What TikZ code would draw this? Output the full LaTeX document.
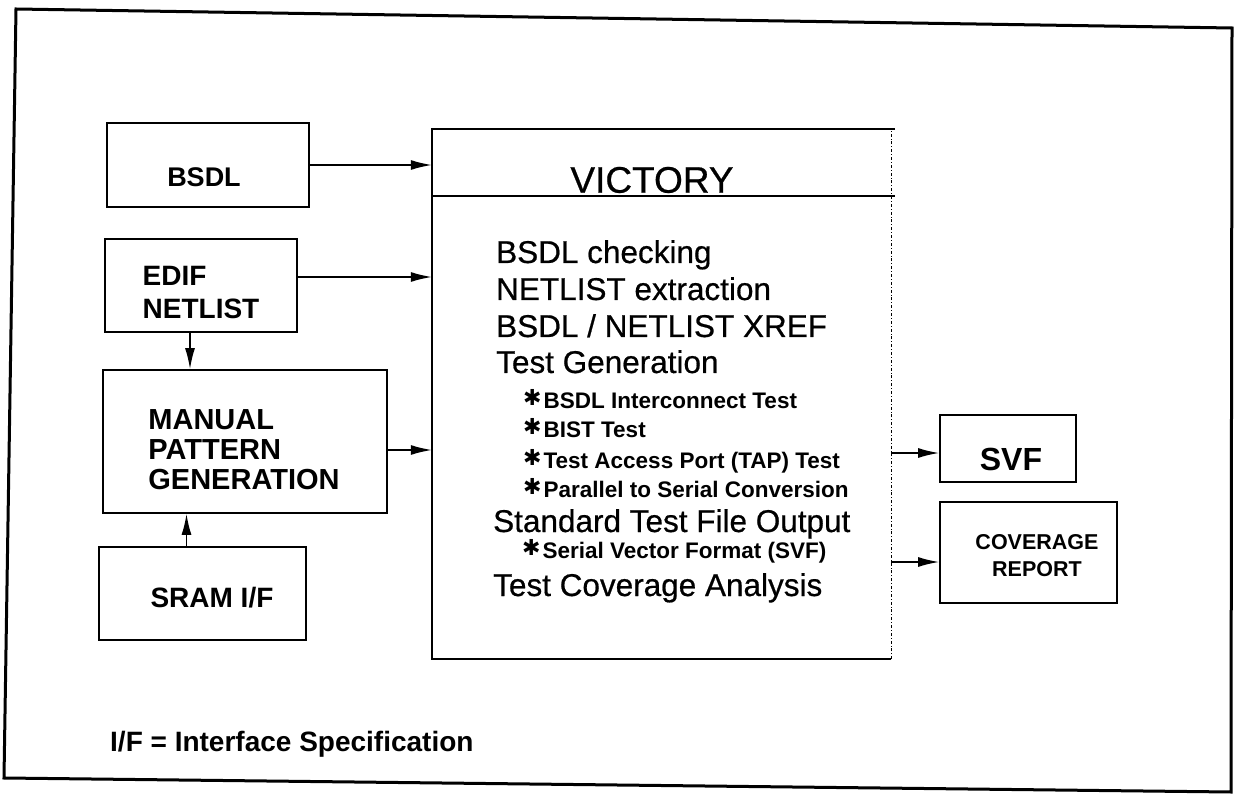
\documentclass[tikz,border=0pt]{standalone}
\usepackage{fontspec}
\setmainfont{Liberation Sans}
\newfontfamily\heavyfont{Liberation Sans}[FakeBold=0.6]
\newfontfamily\symfont{DejaVu Sans}
\usetikzlibrary{arrows.meta}
\newcommand{\fsz}[2]{\fontsize{#1}{#2}\selectfont}
\newcommand{\starit}{{\symfont\bfseries\fsz{22}{22}\raisebox{3pt}{✱}}\hspace{2pt}}

\begin{document}
\begin{tikzpicture}[x=1pt,y=-1pt,
  blk/.style={draw,line width=1.8pt,inner sep=0pt},
  arr/.style={-{Latex[length=21pt,width=10pt]},line width=1.5pt},
  lbl/.style={inner sep=0pt,align=left},
  big/.style={font=\heavyfont\fsz{31.5}{36},anchor=base west,inner sep=0pt},
  sub/.style={font=\bfseries\fsz{22.5}{26},anchor=base west,inner sep=0pt}]
\useasboundingbox (0,0) rectangle (1235,794);
\draw[line width=3pt] (16,9) -- (1232,28) -- (1231,792) -- (4,778) -- cycle;

\node[blk,minimum width=202pt,minimum height=84pt] (bsdl) at (208,165) {};
\node[lbl,font=\bfseries\fsz{27}{32}] (bsdlt) at (204,177) {BSDL};
\node[blk,minimum width=192pt,minimum height=93pt] (edif) at (201,285.5) {};
\node[lbl,font=\bfseries\fsz{28}{33}] (edift) at (201,293) {EDIF\\NETLIST};
\node[blk,minimum width=284pt,minimum height=143pt] (manual) at (245,441.5) {};
\node[lbl,font=\bfseries\fsz{29}{30}] (manualt) at (244,450) {MANUAL\\PATTERN\\GENERATION};
\node[blk,minimum width=207pt,minimum height=93pt] (sram) at (202.5,593.5) {};
\node[lbl,font=\bfseries\fsz{28}{33}] (sramt) at (212,598) {SRAM I/F};
\node[blk,minimum width=136pt,minimum height=67pt] (svf) at (1008,448.5) {};
\node[lbl,font=\bfseries\fsz{32}{36}] (svft) at (1011,459) {SVF};
\node[blk,minimum width=177pt,minimum height=101pt] (cov) at (1028.5,552.5) {};
\node[lbl,align=center,font=\bfseries\fsz{21.5}{27}] (covt) at (1037,556) {COVERAGE\\REPORT};

\node[minimum width=459pt,minimum height=530pt,inner sep=0pt] (vic) at (661.5,394) {};
\draw[line width=1.8pt] ([xshift=4pt]vic.north east) -- (vic.north west) -- (vic.south west) -- (vic.south east);
\draw[line width=0.8pt,dash dot] (vic.south east) -- (vic.north east);
\draw[line width=1.8pt] ([yshift=-67pt]vic.north west) -- ([yshift=-67pt,xshift=4pt]vic.north east);
\node[lbl,font=\heavyfont\fsz{37}{40}] (title) at (652,180) {VICTORY};

\node[big] (l1) at (496,263) {BSDL checking};
\node[big] (l2) at (496,300) {NETLIST extraction};
\node[big] (l3) at (496,337) {BSDL / NETLIST XREF};
\node[big] (l4) at (496,373) {Test Generation};
\node[sub] (l5) at (523,409) {\starit BSDL Interconnect Test};
\node[sub] (l6) at (523,437) {\starit BIST Test};
\node[sub] (l7) at (523,468) {\starit Test Access Port (TAP) Test};
\node[sub] (l8) at (523,497) {\starit Parallel to Serial Conversion};
\node[big] (l9) at (493,532) {Standard Test File Output};
\node[sub] (l10) at (522,558) {\starit Serial Vector Format (SVF)};
\node[big] (l11) at (493,596) {Test Coverage Analysis};

\draw[arr] (bsdl.east) -- (bsdl.east -| vic.west);
\draw[arr] ([yshift=8.5pt]edif.east) -- ([yshift=8.5pt]edif.east -| vic.west);
\draw[arr] ([yshift=-8.5pt]manual.east) -- ([yshift=-8.5pt]manual.east -| vic.west);
\draw[arr] ([xshift=-11pt]edif.south) -- ([xshift=-11pt]edif.south |- manual.north);
\draw[arr] ([xshift=-16pt]sram.north) -- ([xshift=-16pt]sram.north |- manual.south);
\draw[arr] ([yshift=-4.5pt]svf.west -| vic.east) -- ([yshift=-4.5pt]svf.west);
\draw[arr] ([yshift=-9.5pt]cov.west -| vic.east) -- ([yshift=-9.5pt]cov.west);

\node[font=\bfseries\fsz{28}{32},anchor=base west,inner sep=0pt] (note) at (110,751) {I/F = Interface Specification};
\end{tikzpicture}
\end{document}
